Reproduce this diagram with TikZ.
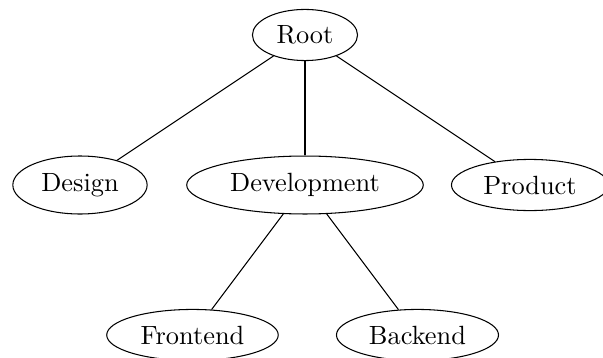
\documentclass[tikz,border=0pt]{standalone}
\usetikzlibrary{shapes.geometric}
\begin{document}
\begin{tikzpicture}[
  treenode/.style={draw, ellipse},
  edge/.style={draw}
]
\useasboundingbox (-115.7pt,-122.5pt) rectangle (113.05pt,13.28pt);
\node[treenode] (root) at (0,0) {Root};
\node[treenode] (design) at (-3cm,-2cm) {Design};
\node[treenode] (dev) at (0,-2cm) {Development};
\node[treenode] (product) at (3cm,-2cm) {Product};
\node[treenode] (front) at (-1.5cm,-4cm) {Frontend};
\node[treenode] (back) at (1.5cm,-4cm) {Backend};
\path[edge] (root) -- (design);
\path[edge] (root) -- (dev);
\path[edge] (root) -- (product);
\path[edge] (dev) -- (front);
\path[edge] (dev) -- (back);
\end{tikzpicture}
\end{document}
